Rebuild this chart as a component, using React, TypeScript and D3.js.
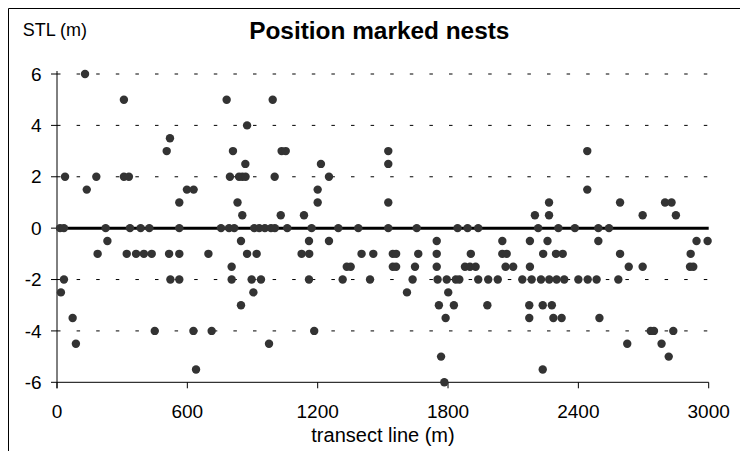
import React from "react";
import * as d3 from "d3";

// Nest positions: distance along the transect (m) and STL offset (m)
const nestX: number[] = [
  14, 32, 18, 32, 37, 72, 87, 129, 137, 181, 187, 224, 232, 308, 308, 331, 321, 336, 364, 385, 400, 425, 436, 450,
  505, 520, 516, 522, 563, 563, 563, 563, 598, 629, 628, 640, 697, 712, 755, 781, 792, 796, 804, 804, 810, 816, 831,
  838, 847, 847, 853, 853, 867, 868, 875, 875, 896, 904, 908, 919, 931, 939, 957, 976, 985, 993, 1002, 1003,
  1034, 1053, 1030, 1060, 1126, 1137, 1160, 1161, 1160, 1172, 1184, 1200, 1200, 1215, 1252, 1252, 1295, 1315, 1334,
  1352, 1387, 1402, 1441, 1456, 1525, 1525, 1525, 1525, 1546, 1561, 1546, 1561,
  1611, 1637, 1648, 1656, 1663, 1748, 1748, 1748, 1752, 1758, 1768, 1783, 1789, 1794, 1801, 1827, 1836, 1844, 1852,
  1878, 1890, 1901, 1905, 1927, 1939, 1939, 1981, 1985, 2029, 2050, 2050, 2065, 2070, 2100,
  2142, 2174, 2174, 2177, 2177, 2185, 2200, 2215, 2228, 2236, 2236, 2238, 2258, 2265, 2265, 2266, 2278, 2285, 2297,
  2300, 2308, 2323, 2328, 2335, 2384, 2400, 2441, 2441, 2443, 2484, 2492, 2492, 2497, 2541, 2584, 2592, 2592, 2625, 2632,
  2696, 2696, 2733, 2748, 2783, 2799, 2816, 2829, 2837, 2849, 2914, 2929, 2917, 2944, 2995,
];
const nestY: number[] = [
  0, 0, -2.5, -2, 2, -3.5, -4.5, 6, 1.5, 2, -1, 0, -0.5, 5, 2, 2, -1, 0, -1, 0, -1, 0, -1, -4,
  3, 3.5, -1, -2, 1, 0, -1, -2, 1.5, 1.5, -4, -5.5, -1, -4, 0, 5, 0, 2, -1.5, -2, 3, 0, 1,
  2, -0.5, -3, 2, 0.5, 2.5, 2, 4, -1, -2, -2.5, 0, -1, 0, -2, 0, -4.5, 0, 5, 2, 0,
  3, 3, 0.5, 0, -1, 0.5, -0.5, -1, -2, 0, -4, 1.5, 1, 2.5, 2, -0.5, 0, -2, -1.5,
  -1.5, 0, -1, -2, -1, 3, 2.5, 1, 0, -1, -1, -1.5, -1.5,
  -2.5, -2, -1.5, 0, -1, -0.5, -1, -1.5, -2, -3, -5, -6, -3.5, -2, -2.5, -3, -2, 0, -2,
  -1.5, 0, -1.5, -1, -1.5, 0, -2, -3, -2, -2, -0.5, -1, -1.5, -1, -1.5,
  -2, -3, -3.5, -0.5, -1.5, -2, 0.5, 0, -2, -3, -5.5, -1, -0.5, 1, 0.5, -2, -3, -3.5, -1,
  -2, 0, -3.5, -1, -2, 0, -2, 3, 1.5, -2, -2, 0, -0.5, -3.5, 0, -2, 1, -1, -4.5, -1.5,
  0.5, -1.5, -4, -4, -4.5, 1, -5, 1, -4, 0.5, -1.5, -1.5, -1, -0.5, -0.5,
];
const xTicks: number[] = [0, 600, 1200, 1800, 2400, 3000];
const yTicks: number[] = [-6, -4, -2, 0, 2, 4, 6];
const gridValues: number[] = [6, 4, 2, -2, -4];

const FONT = "'Liberation Sans', Arial, sans-serif";

export default function App() {
  const x = d3.scaleLinear().domain([0, 3000]).range([57, 708.7]);
  const y = d3.scaleLinear().domain([-6, 6]).range([382.3, 74]);
  const points = nestX.map((v, i) => ({ x: v, y: nestY[i] }));

  return (
    <svg
      width={740}
      height={451}
      style={{ position: "absolute", left: 0, top: 0, background: "#fff" }}
    >
      <rect x={0} y={0} width={740} height={451} fill="#fff" />
      {/* outer frame */}
      <path d="M8.5,451 V8.5 H740" fill="none" stroke="#000" strokeWidth={1} />

      {/* dashed gridlines */}
      {gridValues.map((g) => (
        <line
          key={g}
          x1={x(0)}
          x2={x(3000)}
          y1={y(g)}
          y2={y(g)}
          stroke="#000"
          strokeWidth={1}
          strokeDasharray="3.5 16.1"
        />
      ))}

      {/* axes */}
      <line x1={x(0)} x2={x(0)} y1={y(6) - 3} y2={y(-6) + 6} stroke="#000" strokeWidth={1} />
      <line x1={x(0)} x2={x(3000)} y1={y(-6)} y2={y(-6)} stroke="#000" strokeWidth={1} />
      {yTicks.map((t) => (
        <g key={t}>
          <line x1={x(0) - 6} x2={x(0)} y1={y(t)} y2={y(t)} stroke="#000" strokeWidth={1} />
          <text
            x={41.7}
            y={y(t)}
            dy="0.35em"
            textAnchor="end"
            fontFamily={FONT}
            fontSize={19}
            fill="#000"
          >
            {t}
          </text>
        </g>
      ))}
      {xTicks.map((t) => (
        <g key={t}>
          <line x1={x(t)} x2={x(t)} y1={y(-6)} y2={y(-6) + 6} stroke="#000" strokeWidth={1} />
          <text
            x={x(t)}
            y={418}
            textAnchor="middle"
            fontFamily={FONT}
            fontSize={19}
            fill="#000"
          >
            {t}
          </text>
        </g>
      ))}

      {/* zero line */}
      <line x1={x(0)} x2={x(3000)} y1={y(0)} y2={y(0)} stroke="#000" strokeWidth={3} />

      {/* points */}
      {points.map((p, i) => (
        <circle key={i} cx={x(p.x)} cy={y(p.y)} r={4.2} fill="#333333" />
      ))}

      {/* titles */}
      <text x={379.3} y={39} textAnchor="middle" fontFamily={FONT} fontSize={24.4} fontWeight="bold" fill="#000">
        Position marked nests
      </text>
      <text x={22.7} y={35.7} fontFamily={FONT} fontSize={18} fill="#000">
        STL (m)
      </text>
      <text x={383} y={442} textAnchor="middle" fontFamily={FONT} fontSize={20} fill="#000">
        transect line (m)
      </text>
    </svg>
  );
}
